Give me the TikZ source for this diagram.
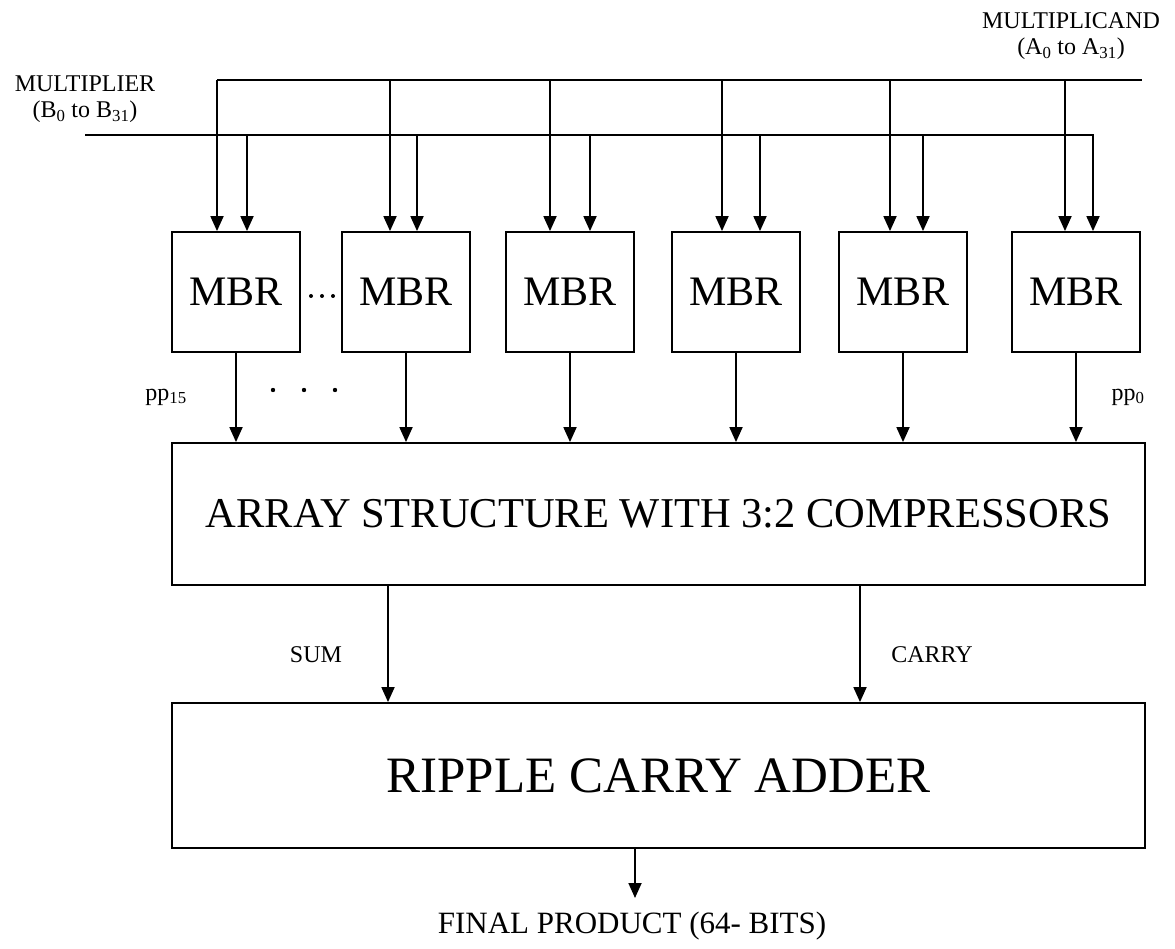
\documentclass[tikz,border=0pt]{standalone}
\usepackage{fontspec}
\setmainfont{Liberation Serif}
\usetikzlibrary{positioning,arrows.meta}

\tikzset{
  mbr/.style={draw, rectangle, line width=1.8pt, minimum width=128pt, minimum height=120pt, inner sep=0pt, font=\fontsize{42}{46}\selectfont},
  bigbox/.style={draw, rectangle, line width=1.8pt, minimum width=973pt, inner sep=0pt},
  lbl/.style={font=\fontsize{24}{26}\selectfont, inner sep=0pt},
  wire/.style={line width=1.8pt},
  arr/.style={line width=1.8pt, -{Triangle[length=15pt,width=13pt]}}
}

\begin{document}
\begin{tikzpicture}[x=1pt, y=-1pt]
  \useasboundingbox (0,0) rectangle (1175,949);

  % input labels
  \node[lbl, align=center] (mcandlbl) at (1071,36) {MULTIPLICAND\\(A\textsubscript{0} to A\textsubscript{31})};
  \node[lbl, align=center] (mplierlbl) at (85,99) {MULTIPLIER\\(B\textsubscript{0} to B\textsubscript{31})};

  % modified booth recoders
  \foreach \i/\cx/\ax/\bx in {1/236/217/247, 2/406/390/417, 3/570/550/590, 4/736/722/760, 5/903/890/923, 6/1076/1065/1093} {
    \node[mbr] (m\i) at (\cx,292) {MBR};
    \coordinate (a\i) at (\ax,80);
    \coordinate (b\i) at (\bx,135);
  }
  \foreach \x in {311,322,333}
    \fill (\x,296) circle (2pt);

  % buses
  \coordinate (mcand) at (1142,80);
  \coordinate (mplier) at (85,135);
  \draw[wire] (a1) -- (mcand);
  \draw[arr] (mplier) -| (b6 |- m6.north);
  \foreach \i in {1,...,6}
    \draw[arr] (a\i) -- (a\i |- m\i.north);
  \foreach \i in {1,...,5}
    \draw[arr] (b\i) -- (b\i |- m\i.north);

  % compressor array and final adder
  \node[bigbox, minimum height=142pt, font=\fontsize{42.5}{46}\selectfont] (array) at (658.5,514) {ARRAY STRUCTURE WITH 3:2 COMPRESSORS};
  \node[bigbox, minimum height=145pt, font=\fontsize{51}{54}\selectfont] (rca) at (658.5,775.5) {RIPPLE CARRY ADDER};

  % partial products
  \foreach \i in {1,...,6}
    \draw[arr] (m\i.south) -- (m\i.south |- array.north);
  \node[lbl] (pp15) at (166,397) {pp\textsubscript{15}};
  \node[lbl] (pp0) at (1128,397) {pp\textsubscript{0}};
  \foreach \x in {273,304,335}
    \fill (\x,390) circle (2.2pt);

  % sum and carry
  \draw[arr] (array.south -| 388,0) -- (rca.north -| 388,0);
  \draw[arr] (array.south -| 860,0) -- (rca.north -| 860,0);
  \node[lbl] (sum) at (316,655) {SUM};
  \node[lbl] (carry) at (932,655) {CARRY};

  % result
  \node[font=\fontsize{31}{34}\selectfont, inner sep=0pt] (prod) at (632,926) {FINAL PRODUCT (64- BITS)};
  \coordinate (out) at (635,898);
  \draw[arr] (rca.south -| out) -- (out);
\end{tikzpicture}
\end{document}
